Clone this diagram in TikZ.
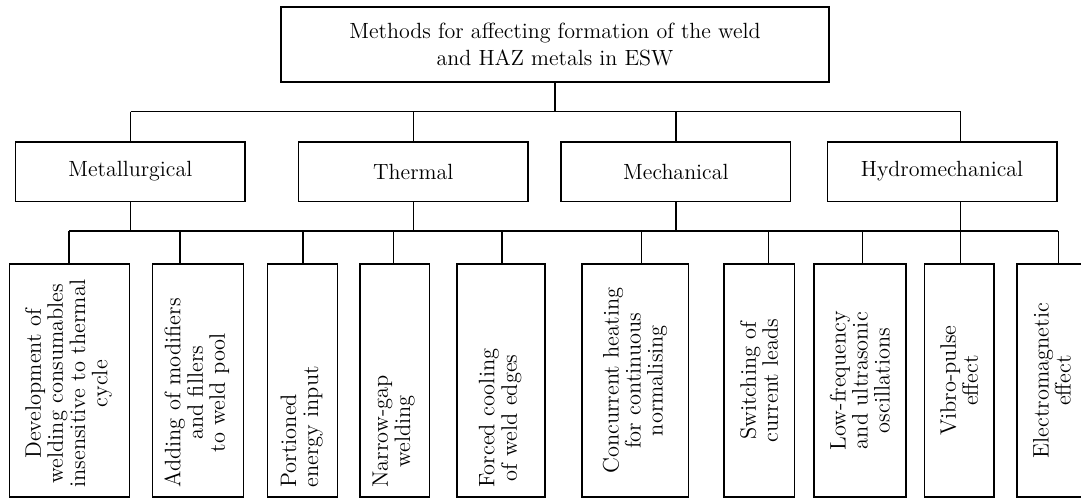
\documentclass[tikz,border=0pt]{standalone}
\usepackage{tikz}
\setlength{\parindent}{0pt}
\newcommand{\cstack}[1]{\begin{tabular}{@{}c@{}}#1\end{tabular}}
\newcommand{\lstack}[1]{\begin{tabular}{@{}l@{}}#1\end{tabular}}
\tikzset{
	methods/.style={draw, line width=1pt, minimum width=274.3pt, minimum height=37.5pt, align=center, font=\fontsize{11}{13.5}\selectfont},
	group/.style={draw, line width=0.8pt, minimum width=114.7pt, minimum height=29.8pt, font=\fontsize{11}{13.5}\selectfont},
	leaf/.style={draw, line width=0.8pt, rotate=90, inner xsep=4.75pt, inner ysep=0pt, text width=106.9pt, align=center, font=\fontsize{11.2}{11}\selectfont},
	low/.style={align=left},
	link/.style={line width=0.7pt}
}

\begin{document}
\begin{tikzpicture}[x=0.5pt, y=-0.5pt]
	\useasboundingbox (0,0) rectangle (1081,499);
	\node[methods] (methods) at (555,44.2) {Methods for affecting formation of the weld\\and HAZ metals in ESW};

	\node[group] (metal) at (130.35,171.5) {Metallurgical};
	\node[group] (thermal) at (413.25,171.5) {Thermal};
	\node[group] (mech) at (675.85,171.5) {Mechanical};
	\node[group] (hydro) at (942,171.5) {Hydromechanical};

	\node[leaf, low, minimum height=60.05pt] (devel) at (69.45,380.6) {\cstack{Development of\\welding consumables\\insensitive to thermal\\cycle}};
	\node[leaf, low, minimum height=45.55pt] (adding) at (197.95,380.6) {\cstack{Adding of modifiers\\and fillers\\to weld pool}};
	\node[leaf, low, minimum height=34.95pt] (portion) at (302.55,380.6) {\lstack{Portioned\\energy input}};
	\node[leaf, low, minimum height=34.8pt] (narrow) at (394.6,380.6) {\cstack{Narrow-gap\\welding}};
	\node[leaf, low, minimum height=44.1pt] (forced) at (501.1,380.6) {\cstack{Forced cooling\\of weld edges}};
	\node[leaf, minimum height=53.3pt] (concur) at (635,380.6) {Concurrent heating\\for continuous\\normalising};
	\node[leaf, minimum height=35.15pt] (switching) at (759.15,380.6) {Switching of\\current leads};
	\node[leaf, minimum height=46.1pt] (lowfreq) at (859.9,380.6) {Low-frequency\\and ultrasonic\\oscillations};
	\node[leaf, minimum height=34.85pt] (vibro) at (959.15,380.6) {Vibro-pulse\\effect};
	\node[leaf, minimum height=35.15pt] (electro) at (1051.85,380.6) {Electromagnetic\\effect};

	% bus taps
	\coordinate (u-metal) at (130.5,111.5);
	\coordinate (u-hydro) at (960.7,111.5);
	\coordinate (t-devel) at (69,231);
	\coordinate (t-adding) at (180,231);
	\coordinate (t-portion) at (303,231);
	\coordinate (t-narrow) at (393.6,231);
	\coordinate (t-forced) at (502,231);
	\coordinate (t-concur) at (641.7,231);
	\coordinate (t-switching) at (768.3,231);
	\coordinate (t-lowfreq) at (862.7,231);
	\coordinate (t-vibro) at (960.7,231);
	\coordinate (t-electro) at (1058.3,231);

	\draw[link]
	(methods.south) -- (methods.south |- u-metal)
	(u-metal) -- (u-hydro)
	(u-metal) -- (u-metal |- metal.north)
	(thermal.north) -- (thermal.north |- u-metal)
	(mech.north) -- (mech.north |- u-metal)
	(u-hydro) -- (u-hydro |- hydro.north)
	;
	\draw[link]
	(t-devel) -- (t-electro)
	(metal.south) -- (metal.south |- t-devel)
	(thermal.south) -- (thermal.south |- t-devel)
	(mech.south) -- (mech.south |- t-devel)
	(u-hydro |- hydro.south) -- (t-vibro)
	(t-devel) -- (t-devel |- devel.east)
	(t-adding) -- (t-adding |- adding.east)
	(t-portion) -- (t-portion |- portion.east)
	(t-narrow) -- (t-narrow |- narrow.east)
	(t-forced) -- (t-forced |- forced.east)
	(t-concur) -- (t-concur |- concur.east)
	(t-switching) -- (t-switching |- switching.east)
	(t-lowfreq) -- (t-lowfreq |- lowfreq.east)
	(t-vibro) -- (t-vibro |- vibro.east)
	(t-electro) -- (t-electro |- electro.east)
	;
\end{tikzpicture}
\end{document}
